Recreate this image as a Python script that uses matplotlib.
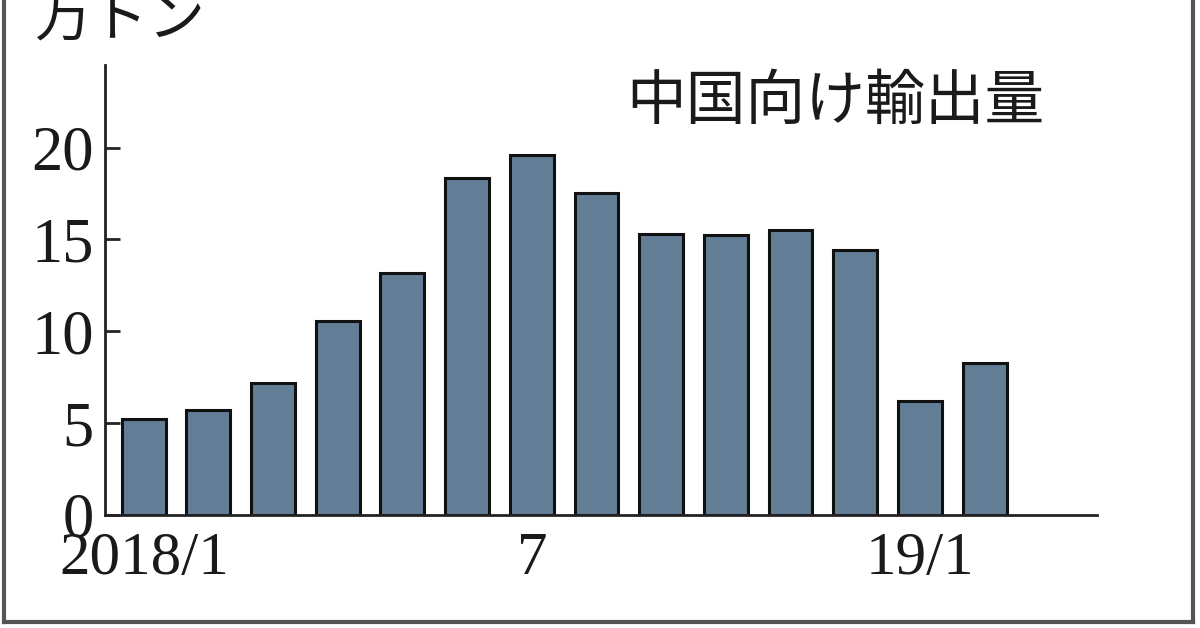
import matplotlib
matplotlib.use("Agg")
import matplotlib.pyplot as plt
from matplotlib.lines import Line2D
import numpy as np

# monthly exports to China, 10k tons (2018/1 - 2019/2)
months = ["2018/1", "2", "3", "4", "5", "6", "7", "8", "9", "10", "11", "12", "19/1", "2"]
values = [5.2, 5.7, 7.2, 10.55, 13.2, 18.35, 19.6, 17.55, 15.3, 15.25, 15.5, 14.45, 6.2, 8.25]
shown_labels = {0: "2018/1", 6: "7", 12: "19/1"}
yticks = [0, 5, 10, 15, 20]

bar_color = "#627d96"
serif = ["Liberation Serif", "DejaVu Serif"]
cjk = ["Noto Sans CJK JP", "DejaVu Sans"]

fig = plt.figure(figsize=(12, 6.28), dpi=100)
ax = fig.add_axes([0.0875, 0.18, 0.8267, 0.7165])

x = np.arange(len(values))
ax.bar(x, values, width=0.68, color=bar_color, edgecolor="#111111", linewidth=2.2, zorder=2)

ax.set_xlim(-0.6, 14.74)
ax.set_ylim(0, 24.5)

ax.spines["top"].set_visible(False)
ax.spines["right"].set_visible(False)
for s in ["left", "bottom"]:
    ax.spines[s].set_linewidth(2)
    ax.spines[s].set_color("#222222")

ax.set_yticks(yticks)
ax.set_yticklabels([str(t) for t in yticks], family=serif, fontsize=45)
ax.tick_params(axis="y", direction="in", length=11, width=2, pad=8, colors="#222222")
ax.tick_params(axis="y", labelcolor="#1a1a1a")

ax.set_xticks(list(shown_labels.keys()))
ax.set_xticklabels(list(shown_labels.values()), family=serif, fontsize=44, color="#1a1a1a")
ax.tick_params(axis="x", length=0, pad=12)

fig.text(0.522, 0.837, "中国向け輸出量", family=cjk, fontsize=43, color="#1a1a1a",
         ha="left", va="center")
fig.text(0.028, 1 - 35 / 628, "万トン", family=cjk, fontsize=41, color="#1a1a1a",
         ha="left", va="baseline")

# outer frame (left, right, bottom edges)
frame = dict(color="#555555", linewidth=3, transform=fig.transFigure)
fig.add_artist(Line2D([0.003, 0.003], [0.01, 1.0], **frame))
fig.add_artist(Line2D([0.9945, 0.9945], [0.01, 1.0], **frame))
fig.add_artist(Line2D([0.003, 0.9945], [0.01, 0.01], **frame))

fig.savefig("out.png", dpi=100)
